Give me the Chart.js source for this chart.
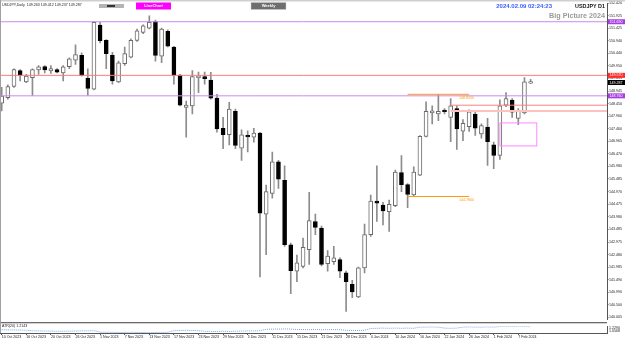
<!DOCTYPE html>
<html>
<head>
<meta charset="utf-8">
<script src="https://cdn.jsdelivr.net/npm/chart.js@4.4.1/dist/chart.umd.min.js"></script>
<style>
  html, body { margin: 0; padding: 0; background: #fff; overflow: hidden; }
  #wrap { position: relative; width: 625px; height: 341px; }
  canvas { position: absolute; left: 0; }
  #main { top: 0; }
  #atr { top: 322px; }
</style>
</head>
<body>
<div id="wrap">
  <canvas id="main" width="625" height="322"></canvas>
  <canvas id="atr" width="625" height="19"></canvas>
</div>
<script>
// USDJPY daily, 10 Oct 2023 .. 9 Feb 2024
var dates = [
  '10 Oct 2023','11 Oct 2023','12 Oct 2023','13 Oct 2023','16 Oct 2023','17 Oct 2023','18 Oct 2023','19 Oct 2023','20 Oct 2023','23 Oct 2023',
  '24 Oct 2023','25 Oct 2023','26 Oct 2023','27 Oct 2023','30 Oct 2023','31 Oct 2023','1 Nov 2023','2 Nov 2023','3 Nov 2023','6 Nov 2023',
  '7 Nov 2023','8 Nov 2023','9 Nov 2023','10 Nov 2023','13 Nov 2023','14 Nov 2023','15 Nov 2023','16 Nov 2023','17 Nov 2023','20 Nov 2023',
  '21 Nov 2023','22 Nov 2023','23 Nov 2023','24 Nov 2023','27 Nov 2023','28 Nov 2023','29 Nov 2023','30 Nov 2023','1 Dec 2023','4 Dec 2023',
  '5 Dec 2023','6 Dec 2023','7 Dec 2023','8 Dec 2023','11 Dec 2023','12 Dec 2023','13 Dec 2023','14 Dec 2023','15 Dec 2023','18 Dec 2023',
  '19 Dec 2023','20 Dec 2023','21 Dec 2023','22 Dec 2023','26 Dec 2023','27 Dec 2023','28 Dec 2023','29 Dec 2023','2 Jan 2024','3 Jan 2024',
  '4 Jan 2024','5 Jan 2024','8 Jan 2024','9 Jan 2024','10 Jan 2024','11 Jan 2024','12 Jan 2024','15 Jan 2024','16 Jan 2024','17 Jan 2024',
  '18 Jan 2024','19 Jan 2024','22 Jan 2024','23 Jan 2024','24 Jan 2024','25 Jan 2024','26 Jan 2024','29 Jan 2024','30 Jan 2024','31 Jan 2024',
  '1 Feb 2024','2 Feb 2024','5 Feb 2024','6 Feb 2024','7 Feb 2024','8 Feb 2024','9 Feb 2024'
];

var opens = [
  148.47,148.69,149.13,149.76,149.31,149.48,149.78,149.92,149.75,149.80,
  149.67,149.91,150.17,150.36,149.45,149.02,151.56,150.95,150.36,149.31,
  150.03,150.29,150.95,151.27,151.44,151.70,150.33,151.31,150.69,149.58,
  148.30,148.36,149.48,149.52,149.38,148.67,147.48,147.22,148.15,146.69,
  147.19,147.13,147.29,144.08,144.90,146.15,145.42,142.87,141.83,142.01,
  142.68,143.79,143.53,142.12,142.20,142.29,141.76,141.31,140.81,141.96,
  143.27,144.60,144.44,144.18,144.42,145.73,145.25,144.84,145.62,147.16,
  148.08,148.04,148.20,147.91,148.26,147.36,147.54,148.04,147.25,147.52,
  146.82,146.40,148.39,148.59,147.87,148.08,149.263
];
var highs = [
  149.10,149.20,149.83,149.80,149.61,149.83,149.96,149.96,149.96,149.84,
  149.96,150.26,150.78,150.46,149.83,151.70,151.67,150.98,150.48,150.13,
  150.69,151.01,151.40,151.57,151.92,151.76,151.44,151.37,150.72,149.61,
  148.55,149.76,149.70,149.70,149.69,148.82,147.91,148.50,148.24,147.42,
  147.38,147.48,147.32,145.23,146.54,146.21,145.99,142.94,142.46,143.14,
  144.94,144.08,143.61,142.64,142.81,142.35,141.83,141.46,141.99,143.69,
  144.84,145.99,144.55,144.64,145.82,146.40,145.29,145.95,147.19,148.52,
  148.36,148.82,148.26,148.65,148.36,147.82,148.21,148.17,147.65,147.87,
  146.93,148.60,148.89,148.65,148.26,149.48,149.412
];
var lows = [
  148.16,148.63,149.09,149.35,149.28,148.78,149.61,149.67,149.65,149.67,
  149.35,149.83,150.00,149.54,148.78,148.99,150.85,149.83,149.22,149.28,
  149.96,150.26,150.91,151.22,151.41,150.13,150.07,150.69,149.22,148.36,
  147.13,148.04,148.89,149.22,148.63,147.32,146.67,146.82,146.67,146.21,
  146.54,146.93,141.60,142.48,144.71,145.10,142.81,140.94,141.41,141.96,
  142.09,143.27,142.03,141.83,142.09,141.57,140.24,140.78,140.78,141.76,
  143.20,143.79,143.66,143.40,144.38,144.97,144.34,144.81,145.60,147.14,
  147.65,147.78,148.04,146.95,146.64,146.99,147.35,147.19,147.09,146.01,
  145.88,146.25,148.33,147.91,147.62,148.04,149.237
];
var closes = [
  148.75,149.13,149.80,149.57,149.54,149.80,149.91,149.78,149.84,149.70,
  149.91,150.22,150.39,149.57,149.05,151.67,150.94,150.43,149.35,150.07,
  150.43,150.95,151.33,151.53,151.67,150.36,151.40,150.72,149.57,148.39,
  148.39,149.52,149.54,149.44,148.67,147.45,147.22,148.24,146.80,147.22,
  147.14,147.29,144.12,144.97,146.15,145.46,142.87,141.85,142.16,142.77,
  143.83,143.56,142.09,142.42,142.35,141.83,141.41,141.01,141.96,143.27,
  144.60,144.52,144.21,144.47,145.75,145.25,144.86,145.75,147.16,148.15,
  148.17,148.15,148.13,148.36,147.45,147.67,148.13,147.48,147.58,146.95,
  146.40,148.36,148.65,148.11,148.17,149.31,149.287
];

// ATR(20) sub window
var atrValues = [
  1.12,1.11,1.11,1.10,1.09,
  1.07,1.06,1.05,1.05,1.04,1.04,1.05,1.05,1.06,1.06,1.07,
  1.00,0.99,0.99,0.98,0.98,0.99,0.98,
  0.98,0.97,0.98,0.98,0.99,
  1.07,1.08,1.09,1.08,1.07,
  1.04,1.03,1.03,1.04,1.03,1.04,
  1.05,1.06,1.06,1.07,
  1.14,1.15,1.15,1.16,1.15,
  1.13,1.13,1.12,1.13,1.12,1.12,1.13,1.12,
  1.09,1.08,1.08,1.09,
  1.18,1.19,1.20,1.19,1.20,1.19,1.20,1.19,
  1.25,1.25,1.26,1.25,
  1.20,1.19,1.20,
  1.25,1.26,1.25,1.25,1.26,1.25,
  1.28,1.29,1.28,1.29,1.28,1.27
];
var atrTicks = [1.0568, 1.2290];

var priceTicks = [140.005,140.500,140.990,141.490,141.985,142.480,142.975,143.485,143.980,144.475,
  144.970,145.485,145.980,146.470,146.965,147.460,147.960,148.450,148.945,149.455,
  149.950,150.440,150.940,151.425,151.925,152.420];
var dateTickBars = [0,4,8,12,16,20,24,28,32,36,40,44,48,52,56,60,64,68,72,76,80,84];

// drawn objects
var purpleLevels = [151.69, 148.76];
var redLevels = [149.57];
var zoneLevels = [148.39, 148.16];
var zoneStartBar = 73;
var orangeLevels = [148.82, 144.78];
var orangeBars = [66, 76];
var boxPrices = [147.69, 146.78];
var boxBars = [81, 87];
var bidPrice = 149.287;

var xMin = -0.276, xMax = 98.42;
var AXIS_W = 18;
var FONT = '"Liberation Sans", Arial, sans-serif';

var wicks = [], bodies = [], bodyFill = [], bodyLine = [];
for (var i = 0; i < opens.length; i++) {
  wicks.push({x: i, y: [lows[i], highs[i]]});
  bodies.push({x: i, y: [opens[i], closes[i]]});
  var up = closes[i] >= opens[i];
  bodyFill.push(up ? '#ffffff' : '#000000');
  bodyLine.push(up ? '#6a6a6a' : '#000000');
}

function tag(ctx, a, py, bg, fg, text) {
  ctx.fillStyle = bg;
  ctx.fillRect(a.right + 1, py - 2.5, 625 - a.right - 1, 5);
  ctx.fillStyle = fg;
  ctx.font = '3.6px ' + FONT;
  ctx.textAlign = 'left';
  ctx.textBaseline = 'middle';
  ctx.fillText(text, a.right + 2.5, py);
}

var overlay = {
  id: 'overlay',
  afterDatasetsDraw: function(chart) {
    var ctx = chart.ctx, a = chart.chartArea, x = chart.scales.x, y = chart.scales.y;
    ctx.save();
    function hl(p, x0, x1, color, w) {
      var py = y.getPixelForValue(p);
      ctx.strokeStyle = color;
      ctx.lineWidth = w;
      ctx.beginPath();
      ctx.moveTo(x0, py);
      ctx.lineTo(x1, py);
      ctx.stroke();
    }
    purpleLevels.forEach(function(p) { hl(p, a.left, a.right, '#c88af0', 1); });
    redLevels.forEach(function(p) { hl(p, a.left, a.right, '#ff7b7b', 1); });
    hl(zoneLevels[0], x.getPixelForValue(zoneStartBar), a.right, '#ff8080', 1);
    hl(zoneLevels[1], x.getPixelForValue(zoneStartBar), a.right, '#ffc0c0', 2);
    var ox0 = x.getPixelForValue(orangeBars[0]), ox1 = x.getPixelForValue(orangeBars[1]);
    ctx.font = '3.6px ' + FONT;
    ctx.textAlign = 'right';
    ctx.textBaseline = 'top';
    orangeLevels.forEach(function(p) {
      hl(p, ox0, ox1, '#ff9a10', 1);
      ctx.fillStyle = '#ff9a10';
      ctx.fillText(p.toFixed(4), ox1 + 5, y.getPixelForValue(p) + 1.5);
    });
    // pink box
    var bx0 = x.getPixelForValue(boxBars[0]), bx1 = x.getPixelForValue(boxBars[1]);
    var by0 = y.getPixelForValue(boxPrices[0]), by1 = y.getPixelForValue(boxPrices[1]);
    ctx.strokeStyle = '#ff88ff';
    ctx.lineWidth = 1;
    ctx.strokeRect(bx0, by0, bx1 - bx0, by1 - by0);
    ctx.restore();
  },
  afterDraw: function(chart) {
    var ctx = chart.ctx, a = chart.chartArea, y = chart.scales.y;
    ctx.save();
    // frame
    ctx.fillStyle = '#cfcfcf';
    ctx.fillRect(0, 0, 625, 1.5);
    ctx.fillStyle = '#a0a0a0';
    ctx.fillRect(0, 0, 1, 322);
    // price tags on the axis
    tag(ctx, a, y.getPixelForValue(purpleLevels[0]), '#a63fe0', '#ffffff', purpleLevels[0].toFixed(3));
    tag(ctx, a, y.getPixelForValue(redLevels[0]), '#ff2a2a', '#ffffff', redLevels[0].toFixed(3));
    tag(ctx, a, y.getPixelForValue(bidPrice), '#000000', '#ffffff', bidPrice.toFixed(3));
    tag(ctx, a, y.getPixelForValue(purpleLevels[1]), '#a63fe0', '#ffffff', purpleLevels[1].toFixed(3));
    // header
    ctx.textBaseline = 'middle';
    ctx.textAlign = 'left';
    ctx.fillStyle = '#222';
    ctx.font = '3.6px ' + FONT;
    ctx.fillText('USDJPY,Daily  ' + opens[86].toFixed(3) + ' ' + highs[86].toFixed(3) + ' ' +
      lows[86].toFixed(3) + ' ' + closes[86].toFixed(3), 2, 4.5);
    // buttons
    ctx.fillStyle = '#b4b4b4';
    ctx.fillRect(99, 4, 25, 4);
    ctx.fillStyle = '#333';
    ctx.fillRect(107, 5, 8, 2);
    ctx.fillStyle = '#ff00ff';
    ctx.fillRect(136, 2.5, 35, 7);
    ctx.fillStyle = '#6e6e6e';
    ctx.fillRect(251, 2.5, 35, 7);
    ctx.strokeStyle = '#cccccc';
    ctx.lineWidth = 0.5;
    ctx.strokeRect(251, 2.5, 35, 7);
    ctx.fillStyle = '#ffffff';
    ctx.textAlign = 'center';
    ctx.font = 'bold 4px ' + FONT;
    ctx.fillText('LineChart', 153.5, 6);
    ctx.fillText('Weekly', 268.5, 6);
    // top right texts
    ctx.textAlign = 'right';
    ctx.font = 'bold 6px ' + FONT;
    ctx.fillStyle = '#3a5cff';
    ctx.fillText('2024.02.09 02:24:23', 552, 6.5);
    ctx.font = 'bold 5.4px ' + FONT;
    ctx.fillStyle = '#111';
    ctx.fillText('USDJPY D1', 605, 6.5);
    ctx.font = 'bold 7.2px ' + FONT;
    ctx.fillStyle = '#9a9a9a';
    ctx.fillText('Big Picture 2024', 605, 16);
    ctx.restore();
  }
};

new Chart(document.getElementById('main'), {
  type: 'bar',
  data: {
    datasets: [
      { data: bodies, backgroundColor: bodyFill, borderColor: bodyLine, borderWidth: 1,
        borderSkipped: false, barThickness: 4, minBarLength: 1.5, grouped: false, order: 0 },
      { data: wicks, backgroundColor: '#8c8c8c', borderWidth: 0,
        barThickness: 1, grouped: false, order: 1 }
    ]
  },
  options: {
    responsive: false,
    animation: false,
    devicePixelRatio: 1,
    layout: { padding: { top: 3, left: 0, right: 0, bottom: 0 } },
    plugins: { legend: { display: false }, tooltip: { enabled: false } },
    scales: {
      x: { type: 'linear', min: xMin, max: xMax, offset: false, display: false },
      y: {
        position: 'right', min: 139.922, max: 152.431, beginAtZero: false,
        afterFit: function(s) { s.width = AXIS_W; },
        afterBuildTicks: function(s) { s.ticks = priceTicks.map(function(v) { return {value: v}; }); },
        grid: { drawOnChartArea: false, drawTicks: true, tickLength: 1.5, color: '#555' },
        border: { display: true, color: '#555', width: 1 },
        ticks: {
          autoSkip: false, padding: 0.5, color: '#222',
          font: { size: 3.6, family: FONT },
          callback: function(v) { return Number(v).toFixed(3); }
        }
      }
    }
  },
  plugins: [overlay]
});

var atrOverlay = {
  id: 'atrOverlay',
  afterDraw: function(chart) {
    var ctx = chart.ctx;
    ctx.save();
    ctx.fillStyle = '#6a6a6a';
    ctx.fillRect(0, 0, chart.chartArea.right, 1.3);
    ctx.fillStyle = '#a0a0a0';
    ctx.fillRect(0, 0, 1, 11);
    ctx.fillStyle = '#222';
    ctx.font = '3.6px ' + FONT;
    ctx.textAlign = 'left';
    ctx.textBaseline = 'middle';
    ctx.fillText('ATR(20) 1.2143', 2, 4);
    ctx.restore();
  }
};

new Chart(document.getElementById('atr'), {
  type: 'line',
  data: {
    datasets: [{
      data: atrValues.map(function(v, i) { return {x: i, y: v}; }),
      borderColor: '#6fa8f0', borderWidth: 1, borderDash: [1, 1],
      pointRadius: 0, fill: false, tension: 0
    }]
  },
  options: {
    responsive: false,
    animation: false,
    devicePixelRatio: 1,
    layout: { padding: { top: 1, left: 0, right: 0, bottom: 0 } },
    plugins: { legend: { display: false }, tooltip: { enabled: false } },
    scales: {
      x: {
        type: 'linear', min: xMin, max: xMax, offset: false,
        afterFit: function(s) { s.height = 8; },
        afterBuildTicks: function(s) { s.ticks = dateTickBars.map(function(v) { return {value: v}; }); },
        grid: { drawOnChartArea: false, drawTicks: true, tickLength: 2, color: '#555' },
        border: { display: true, color: '#555', width: 1 },
        ticks: {
          autoSkip: false, maxRotation: 0, minRotation: 0, align: 'start', padding: 0,
          color: '#222', font: { size: 3.6, family: FONT },
          callback: function(v) { return dates[Math.round(v)] || ''; }
        }
      },
      y: {
        position: 'right', min: 0.954, max: 1.298,
        afterFit: function(s) { s.width = AXIS_W; },
        afterBuildTicks: function(s) { s.ticks = atrTicks.map(function(v) { return {value: v}; }); },
        grid: { drawOnChartArea: false, drawTicks: false },
        border: { display: true, color: '#555', width: 1 },
        ticks: {
          autoSkip: false, padding: 2, color: '#222',
          font: { size: 3.6, family: FONT },
          callback: function(v) { return Number(v).toFixed(4); }
        }
      }
    }
  },
  plugins: [atrOverlay]
});
</script>
</body>
</html>
